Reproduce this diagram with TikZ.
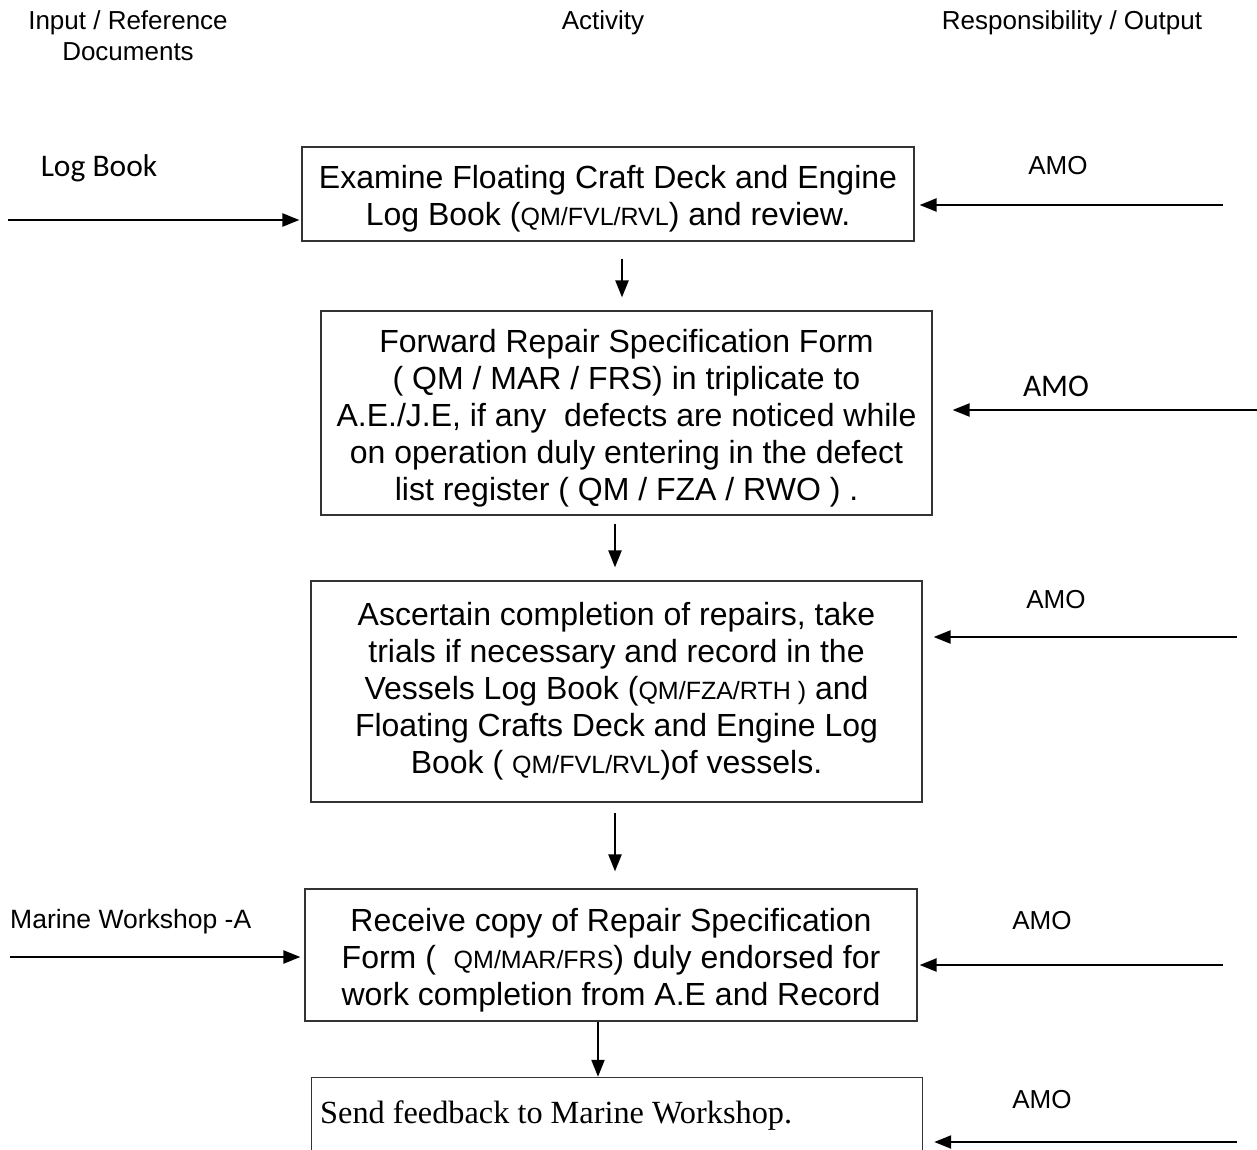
\documentclass[tikz,border=0pt]{standalone}
\usepackage{fontspec}
\setmainfont{Liberation Sans}
\newfontfamily\carl{Carlito}
\newfontfamily\tnr{Liberation Serif}
\usetikzlibrary{arrows.meta}
\newcommand\smq[1]{{\fontsize{25}{37}\selectfont #1}}
\newcommand\dn{\rule{0pt}{33pt}}
\tikzset{
  box/.style={draw=black!80, line width=1.2pt, align=center, inner sep=0pt,
    font=\fontsize{32}{37}\selectfont},
  hdr/.style={align=center, inner sep=0pt, font=\fontsize{26}{31}\selectfont},
  lbl/.style={inner sep=0pt, font=\fontsize{26}{31}\selectfont},
  clbl/.style={inner sep=0pt, font=\carl\fontsize{31.5}{37}\selectfont},
  arr/.style={line width=2.2pt, -{Triangle[length=17pt,width=13pt]}},
}
\begin{document}
\begin{tikzpicture}[x=1pt,y=-1pt]
\useasboundingbox (0,0) rectangle (1257,1150);

% headers
\node[hdr] (h1) at (128,35.5) {Input / Reference\\Documents};
\node[hdr] (h2) at (603,23) {Activity};
\node[hdr] (h3) at (1072,23) {Responsibility / Output};

% boxes
\node[box, minimum width=612pt, minimum height=94pt] (b1) at (608,194)
  {\dn Examine Floating Craft Deck and Engine\\Log Book (\smq{QM/FVL/RVL}) and review.};
\node[box, minimum width=611pt, minimum height=204pt] (b2) at (626.5,413)
  {\dn Forward Repair Specification Form\\( QM / MAR / FRS) in triplicate to\\A.E./J.E, if any\ \ defects are noticed while\\on operation duly entering in the defect\\list register ( QM / FZA / RWO ) .};
\node[box, minimum width=611pt, minimum height=221pt] (b3) at (616.5,691.5)
  {Ascertain completion of repairs, take\\trials if necessary and record in the\\Vessels Log Book (\smq{QM/FZA/RTH )} and\\Floating Crafts Deck and Engine Log\\Book ( \smq{QM/FVL/RVL})of vessels.};
\node[box, minimum width=612pt, minimum height=132pt] (b4) at (611,955)
  {\dn Receive copy of Repair Specification\\Form (\ \ \smq{QM/MAR/FRS}) duly endorsed for\\work completion from A.E and Record};
\node[inner sep=0pt, minimum width=610pt, minimum height=72pt] (b5) at (617,1114) {};
\draw[draw=black!80, line width=1.2pt] (b5.south west) -- (b5.north west) -- (b5.north east) -- (b5.south east);
\node[inner sep=0pt, anchor=west, font=\tnr\fontsize{32.3}{37}\selectfont] (t5) at (320,1116) {Send feedback to Marine Workshop.};

% left labels and arrows
\node[clbl] (lbk) at (99,168) {Log Book};
\node[lbl, anchor=west, font=\fontsize{26.5}{31}\selectfont] (mw) at (10,922) {Marine Workshop -A};
\coordinate (lbs) at (8,220);
\coordinate (mws) at (10,957);
\draw[arr, shorten >=2pt] (lbs) -- (lbs -| b1.west);
\draw[arr, shorten >=4pt] (mws) -- (mws -| b4.west);

% right labels and arrows
\node[lbl] (amo1) at (1058,166) {AMO};
\node[clbl] (amo2) at (1056,386) {AMO};
\node[lbl] (amo3) at (1056,600) {AMO};
\node[lbl] (amo4) at (1042,921) {AMO};
\node[lbl] (amo5) at (1042,1100) {AMO};
\coordinate (r1) at (1223,205);
\coordinate (r2) at (1257,410);
\coordinate (r3) at (1237,637);
\coordinate (r4) at (1223,965);
\coordinate (r5) at (1237,1142);
\draw[arr, shorten >=5pt] (r1) -- (r1 -| b1.east);
\draw[arr, shorten >=20pt] (r2) -- (r2 -| b2.east);
\draw[arr, shorten >=11pt] (r3) -- (r3 -| b3.east);
\draw[arr, shorten >=2pt] (r4) -- (r4 -| b4.east);
\draw[arr, shorten >=12pt] (r5) -- (r5 -| b5.east);

% flow arrows
\draw[arr, shorten <=17pt, shorten >=13pt] (b1.south -| 622,0) -- (b2.north -| 622,0);
\draw[arr, shorten <=8pt, shorten >=13pt] (b2.south -| 615,0) -- (b3.north -| 615,0);
\draw[arr, shorten <=10pt, shorten >=17pt] (b3.south -| 615,0) -- (b4.north -| 615,0);
\draw[arr, shorten >=1pt] (b4.south -| 598,0) -- (b5.north -| 598,0);
\end{tikzpicture}
\end{document}
